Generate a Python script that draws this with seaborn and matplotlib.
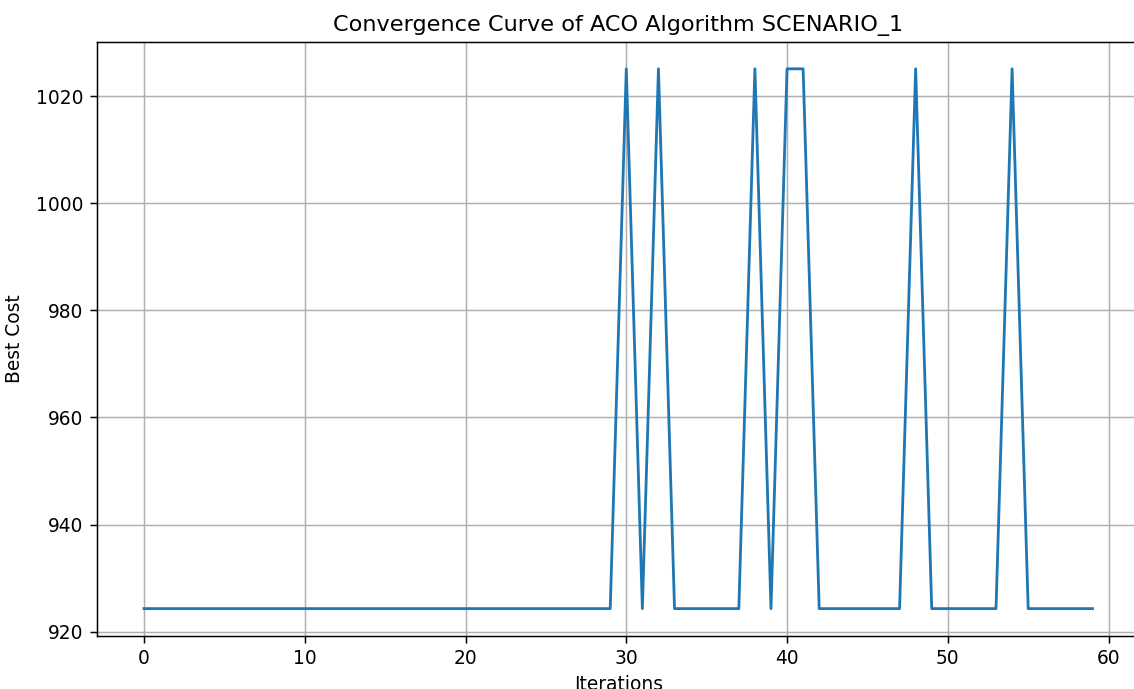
import numpy as np
import pandas as pd
import matplotlib
matplotlib.use("Agg")
import matplotlib.pyplot as plt
import seaborn as sns

# Best cost per iteration
low = 924.3
high = 1025.1
iterations = list(range(60))
spike_iters = [30, 32, 38, 40, 41, 48, 54]
best_cost = [high if i in spike_iters else low for i in iterations]

df = pd.DataFrame({"Iterations": iterations, "Best Cost": best_cost})

# Figure sized so the output is 1134x689 px; axes extend past the cropped edges
dpi = 134.6
fig = plt.figure(figsize=(1134 / dpi, 689 / dpi), dpi=dpi)
ax = fig.add_axes([0.0852, 0.0775, 0.920, 0.8618])

sns.lineplot(data=df, x="Iterations", y="Best Cost", ax=ax, color="#1f77b4", linewidth=1.5)

ax.set_title("Convergence Curve of ACO Algorithm SCENARIO_1")
ax.set_xlabel("Iterations")
ax.set_ylabel("Best Cost", labelpad=6.5)
ax.grid(True)

fig.savefig("out.png", dpi=dpi)
